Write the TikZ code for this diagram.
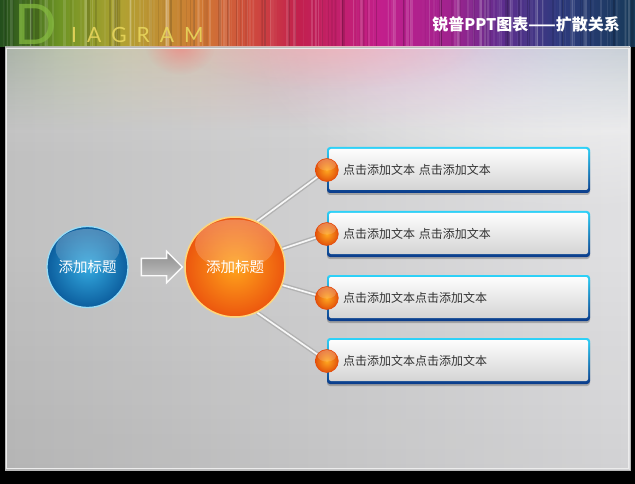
\documentclass[tikz,border=0pt]{standalone}
\usepackage{fontspec}
\setmainfont{Noto Sans CJK SC}
\newfontfamily\latinfont{Lato}
\usetikzlibrary{shapes.arrows,shadows,fadings,calc}
\definecolor{hA}{HTML}{234F1C}
\definecolor{hB}{HTML}{6E9424}
\definecolor{hC}{HTML}{B0A232}
\definecolor{hD}{HTML}{D07A34}
\definecolor{hE}{HTML}{D04E3C}
\definecolor{hF}{HTML}{C2204E}
\definecolor{hG}{HTML}{C21F8C}
\definecolor{hH}{HTML}{A0228E}
\definecolor{hI}{HTML}{5E2E8E}
\definecolor{hJ}{HTML}{2E3A7E}
\definecolor{hK}{HTML}{173A58}
\definecolor{boxtop}{HTML}{2ED2F8}
\definecolor{boxbot}{HTML}{0A3A8A}
\definecolor{textgray}{HTML}{333333}
\definecolor{blueIn}{HTML}{34AAE0}
\definecolor{blueOut}{HTML}{0C5E9E}
\definecolor{blueRim}{HTML}{9ADCF5}
\definecolor{orIn}{HTML}{FFA41C}
\definecolor{orOut}{HTML}{EC560E}
\definecolor{orRim}{HTML}{FFD67A}
\definecolor{knIn}{HTML}{FFA820}
\definecolor{knOut}{HTML}{E2520A}
\definecolor{Dgreen}{HTML}{86BC40}
\definecolor{Iyellow}{HTML}{E8D65C}
\definecolor{panL}{HTML}{C0C0C0}
\definecolor{panR}{HTML}{E0E0E2}
\definecolor{arrL}{HTML}{8C8C8C}
\definecolor{arrR}{HTML}{C8C8C8}
\pgfdeclarehorizontalshading{rainbowhdr}{100bp}{color(0bp)=(hA); color(25bp)=(hA); color(29.75bp)=(hB); color(34.5bp)=(hC); color(40.75bp)=(hD); color(44.5bp)=(hE); color(48.5bp)=(hF); color(55bp)=(hG); color(60.5bp)=(hH); color(64.5bp)=(hI); color(69bp)=(hJ); color(75bp)=(hK); color(100bp)=(hK)}
\tikzfading[name=softglow, inner color=transparent!0, outer color=transparent!100]
\pgfdeclarelayer{bg}
\pgfdeclarelayer{conn}
\pgfsetlayers{bg,conn,main}
\tikzset{
  textbox/.style={rounded corners=3pt, minimum width=263, minimum height=46,
    text width=231, inner xsep=16, align=left, top color=boxtop, bottom color=boxbot,
    font=\fontsize{12}{14}\selectfont, text=textgray,
    drop shadow={shadow xshift=0pt, shadow yshift=-2pt, opacity=0.22, fill=black},
    path picture={\shade[rounded corners=2pt, top color=white, middle color=white!94!gray, bottom color=black!18]
      ([shift={(2,2)}]path picture bounding box.north west) rectangle
      ([shift={(-2,-3)}]path picture bounding box.south east);}},
  knob/.style={circle, minimum size=23, inner sep=0, shading=radial, inner color=knIn, outer color=knOut, draw=knOut!85!red, line width=0.5, gloss=11.5},
  tube/.style={draw=gray!60, line width=1.4, double=gray!6, double distance=1.7},
  gloss/.style={path picture={\fill[white, fill opacity=0.28, path fading=south]
      ($(path picture bounding box.center)+(0,-0.45*#1)$) ellipse (0.8*#1 and 0.5*#1);}},
  bigball/.style={circle, inner sep=0, text=white, font=\fontsize{14.5}{16}\selectfont}
}
\begin{document}
\begin{tikzpicture}[x=1pt,y=-1pt]
\useasboundingbox (0,0) rectangle (635,484);
\begin{pgfonlayer}{bg}
\fill[black] (0,0) rectangle (635,484);
\shade[shading=rainbowhdr] (0,0) rectangle (635,47);
\pgfmathsetseed{12}
\foreach \i in {1,...,150}{
  \pgfmathsetmacro\xx{rnd*635}
  \pgfmathsetmacro\ww{0.5+rnd*2.5}
  \pgfmathsetmacro\oo{rnd*0.16}
  \fill[white, opacity=\oo] (\xx,0) rectangle ++(\ww,47);
}
\foreach \i in {1,...,90}{
  \pgfmathsetmacro\xx{rnd*635}
  \pgfmathsetmacro\ww{0.5+rnd*2.5}
  \pgfmathsetmacro\oo{rnd*0.16}
  \fill[black, opacity=\oo] (\xx,0) rectangle ++(\ww,47);
}
\shade[left color=panL, right color=panR] (5,47) rectangle (630,470);
\begin{scope}
  \clip (5,47) rectangle (630,470);
  \fill[black, opacity=0.06, path fading=north] (5,250) rectangle (630,470);
  \fill[white, opacity=0.75, path fading=softglow] (580,40) ellipse (330 and 170);
  \fill[white, opacity=0.2, path fading=south] (5,47) rectangle (630,160);
  \shade[shading=rainbowhdr, opacity=0.2, path fading=south] (5,47) rectangle (630,130);
  \fill[red!60!white, opacity=0.5, path fading=softglow] (180,45) ellipse (35 and 30);
  \fill[red!30!white, opacity=0.45, path fading=softglow] (330,45) ellipse (150 and 45);
\end{scope}
\draw[gray!55, line width=0.8] (5,47) rectangle (630,470);
\draw[white!85!gray, line width=0.6] (6.5,48.5) rectangle (628.5,468.5);
\end{pgfonlayer}

% header
\node[anchor=base west, inner sep=0, text=Dgreen, text opacity=0.7, font=\latinfont\fontsize{56}{56}\selectfont] (dletter) at (14,45) {D};
\node[anchor=base west, inner sep=0, text=Iyellow, text opacity=0.9, font=\latinfont\fontsize{21}{21}\selectfont] (iagram) at (71,43) {I\hspace{10pt}A\hspace{10pt}G\hspace{10pt}R\hspace{10pt}A\hspace{10pt}M};
\node[anchor=east, inner sep=0, text=white, font=\fontsize{16}{18}\selectfont\bfseries] (title) at (620,24) {锐普PPT图表——扩散关系};

% left part
\node[bigball, minimum size=81, draw=blueRim, line width=1.3, shading=radial, inner color=blueIn, outer color=blueOut, gloss=40] (blue) at (87.5,267) {添加标题};
\node[single arrow, draw=white!96!gray, line width=1.4, top color=arrL, bottom color=arrR, minimum height=41, minimum width=30, inner ysep=8, inner xsep=0, single arrow head extend=7] (arr) at (157.5,267) {};
\node[bigball, minimum size=100, draw=orRim, line width=1.5, shading=radial, inner color=orIn, outer color=orOut, gloss=50] (orange) at (235,267) {添加标题};

% boxes
\node[textbox] (b1) at (458.5,170) {点击添加文本 点击添加文本};
\node[textbox] (b2) at (458.5,234) {点击添加文本 点击添加文本};
\node[textbox] (b3) at (458.5,298) {点击添加文本点击添加文本};
\node[textbox] (b4) at (458.5,361) {点击添加文本点击添加文本};

\node[knob] (k1) at (b1.west) {};
\node[knob] (k2) at (b2.west) {};
\node[knob] (k3) at (b3.west) {};
\node[knob] (k4) at (b4.west) {};

\begin{pgfonlayer}{conn}
\draw[tube] (orange.64) -- (k1.center);
\draw[tube] (orange.21) -- (k2.center);
\draw[tube] (orange.-21) -- (k3.center);
\draw[tube] (orange.-64) -- (k4.center);
\end{pgfonlayer}
\end{tikzpicture}
\end{document}
